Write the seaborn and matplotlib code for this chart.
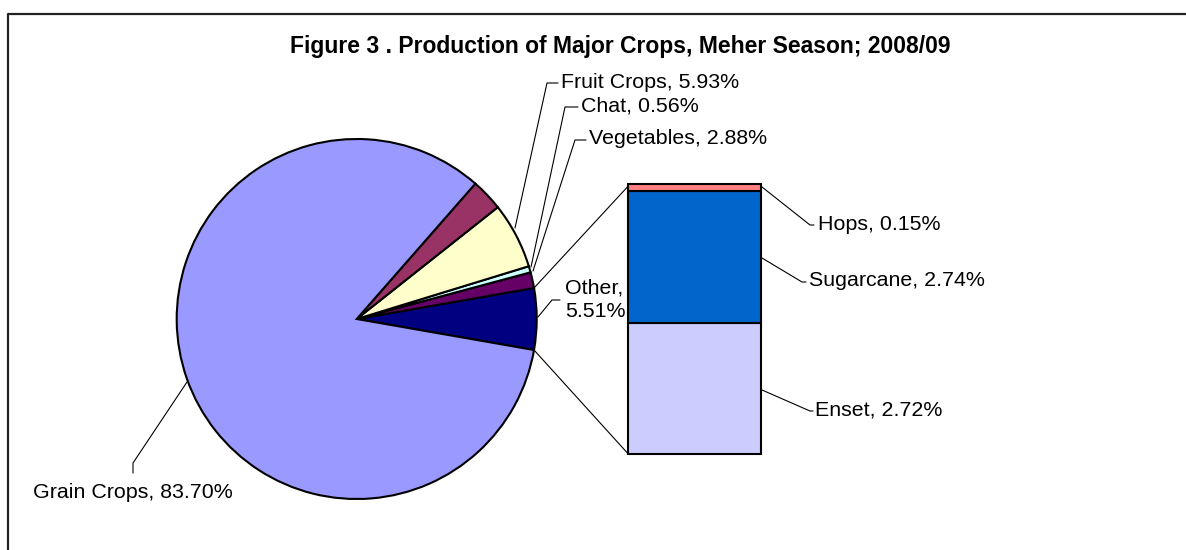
import matplotlib
matplotlib.use("Agg")
import matplotlib.pyplot as plt
import seaborn as sns
import numpy as np

# ---------------- data ----------------
pie_names = ["Other", "Vegetables", "Chat", "Fruit Crops", "", "Grain Crops"]
pie_shares = [5.51, 1.42, 0.56, 5.93, 2.88, 83.70]          # slice sizes (%)
pie_label_pcts = [5.51, 2.88, 0.56, 5.93, None, 83.70]      # percentages printed in labels
pie_colors = ["#000080", "#660066", "#CCFFFF", "#FFFFCC", "#993366", "#9999FF"]

bar_names = ["Enset", "Sugarcane", "Hops"]                  # bottom to top
bar_values = [2.72, 2.74, 0.15]
bar_colors = ["#CCCCFF", "#0066CC", "#FF8080"]

title = "Figure 3 . Production of Major Crops, Meher Season; 2008/09"

# ---------------- style ----------------
sns.set_theme(style="white")
plt.rcParams["font.family"] = ["Liberation Sans", "DejaVu Sans"]
plt.rcParams["text.color"] = "black"

W, H = 1186, 550
fig = plt.figure(figsize=(W / 100, H / 100), dpi=100)
ax = fig.add_axes([0, 0, 1, 1])

# ---------------- pie ----------------
cx, cy, R = 356.7, 319.0, 180.0
other_deg = pie_shares[0] / sum(pie_shares) * 360.0
# y axis is inverted, so draw clockwise in data coords to appear counter-clockwise on screen
wedges, _ = ax.pie(pie_shares, colors=sns.color_palette(pie_colors),
                   startangle=other_deg / 2.0, counterclock=False,
                   center=(cx, cy), radius=R, frame=True,
                   wedgeprops=dict(edgecolor="black", linewidth=1.5))
ax.set_xlim(0, W)
ax.set_ylim(H, 0)
ax.set_aspect("equal")
ax.axis("off")

# ---------------- stacked bar (breakdown of Other) ----------------
bx0, bx1, btop, bbot = 628.3, 760.7, 184.0, 454.0
scale = (bbot - btop) / sum(bar_values)
bottom = bbot
for name, v, c in zip(bar_names, bar_values, bar_colors):
    h = v * scale
    ax.bar((bx0 + bx1) / 2, -h, width=bx1 - bx0, bottom=bottom, color=c,
           edgecolor="black", linewidth=1.5, zorder=3)
    bottom -= h

# connector lines between Other slice and bar
half = np.deg2rad(other_deg / 2.0)
ptop = (cx + R * np.cos(half), cy - R * np.sin(half))
pbot = (cx + R * np.cos(half), cy + R * np.sin(half))
ax.plot([ptop[0], bx0], [ptop[1], btop + 2], color="black", lw=0.8, zorder=2)
ax.plot([pbot[0], bx0], [pbot[1], bbot], color="black", lw=0.8, zorder=2)

# ---------------- labels ----------------
fs = 15.4
def leader(pts):
    xs, ys = zip(*pts)
    ax.plot(xs, ys, color="black", lw=0.8, zorder=4)

def lab(name, pct):
    return f"{name}, {pct:.2f}%"

# Fruit crops
leader([(515, 228), (547, 83), (558, 83)])
ax.text(561, 82, lab(pie_names[3], pie_label_pcts[3]), fontsize=fs, va="center", ha="left")
# Chat
leader([(531, 267), (565, 107), (578, 107)])
ax.text(581, 106, lab(pie_names[2], pie_label_pcts[2]), fontsize=fs, va="center", ha="left")
# Vegetables
leader([(533, 271), (575, 140), (586, 140)])
ax.text(589, 139, lab(pie_names[1], pie_label_pcts[1]), fontsize=fs, va="center", ha="left")
# Other
leader([(538, 317), (552, 300), (560, 300)])
ax.text(565, 300, f"{pie_names[0]},\n{pie_label_pcts[0]:.2f}%", fontsize=fs,
        va="center", ha="left", linespacing=1.3)
# Grain crops
leader([(187, 382), (133, 463), (133, 473)])
ax.text(33, 492, lab(pie_names[5], pie_label_pcts[5]), fontsize=fs, va="center", ha="left")

# bar labels
bar_label_pos = {"Hops": [(762, 187), (810, 225), (814, 225), (818, 224)],
                 "Sugarcane": [(762, 258), (802, 282), (806, 282), (809, 281)],
                 "Enset": [(762, 390), (810, 411), (813, 411), (815, 410)]}
for name, v in zip(bar_names, bar_values):
    pts = bar_label_pos[name]
    leader(pts[:3])
    ax.text(pts[3][0], pts[3][1], lab(name, v), fontsize=fs, va="center", ha="left")

# title
ax.text(620, 47, title, fontsize=16.5, fontweight="bold", ha="center", va="center")

# chart frame (partially visible)
ax.plot([8, 8, W + 5], [H + 5, 14, 14], color="#222222", lw=1.6, zorder=5, clip_on=False)

fig.savefig("out.png", dpi=100)
